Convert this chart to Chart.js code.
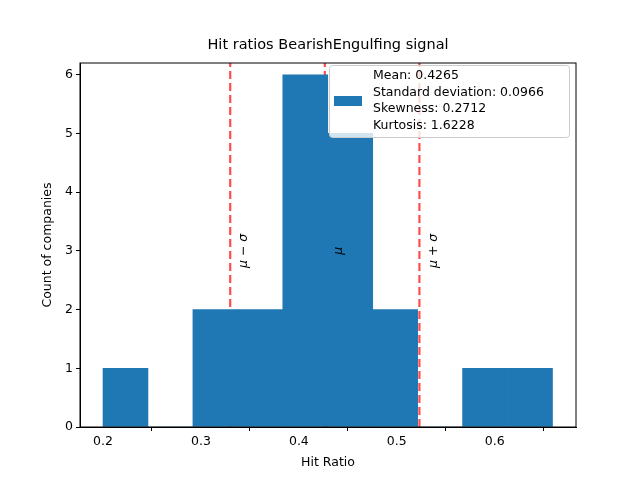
<!DOCTYPE html>
<html>
<head>
<meta charset="utf-8">
<script src="https://cdn.jsdelivr.net/npm/chart.js@4"></script>
<style>
  html, body { margin: 0; padding: 0; background: #fff; }
  #wrap { width: 640px; height: 480px; }
</style>
</head>
<body>
<div id="wrap"><canvas id="c" width="640" height="480"></canvas></div>
<script>
// ── Data ───────────────────────────────────────────────────────────────
var binEdges = [0.2, 0.2459, 0.2918, 0.3377, 0.3836, 0.4295, 0.4754, 0.5213, 0.5672, 0.6131, 0.659];
var counts = [1, 0, 2, 2, 6, 5, 2, 0, 1, 1];
var mean = 0.4265;
var sd = 0.0966;
var statLines = ["Mean: 0.4265", "Standard deviation: 0.0966", "Skewness: 0.2712", "Kurtosis: 1.6228"];
var xTicks = [0.2, 0.3, 0.4, 0.5, 0.6];
var yTicks = [0, 1, 2, 3, 4, 5, 6];

var FONT = "DejaVu Sans";
var BLUE = "#1f77b4";
var RED = "rgba(255,0,0,0.7)";

var bars = counts.map(function (c, i) {
  return { x: (binEdges[i] + binEdges[i + 1]) / 2, y: c };
});

function vline(x) {
  return {
    type: "line",
    data: [{ x: x, y: 0 }, { x: x, y: 6.3 }],
    borderColor: RED,
    borderWidth: 2.2,
    borderDash: [8, 4],
    pointRadius: 0,
    fill: false
  };
}

// ── Annotation plugin: title, rotated labels, legend, frame ─────────────
var extras = {
  id: "extras",
  afterDraw: function (chart) {
    var ctx = chart.ctx, xs = chart.scales.x, ys = chart.scales.y, a = chart.chartArea;
    ctx.save();
    ctx.strokeStyle = "#000";
    ctx.lineWidth = 1;
    ctx.strokeRect(a.left, a.top, a.right - a.left, a.bottom - a.top);

    ctx.fillStyle = "#000";
    ctx.font = "14.5px " + FONT;
    ctx.textAlign = "center";
    ctx.textBaseline = "alphabetic";
    ctx.fillText("Hit ratios BearishEngulfing signal", (a.left + a.right) / 2, 49);

    // rotated labels
    var labs = [["μ − σ", mean - sd], ["μ", mean], ["μ + σ", mean + sd]];
    ctx.font = "italic 12.5px " + FONT;
    labs.forEach(function (l) {
      ctx.save();
      ctx.translate(xs.getPixelForValue(l[1]) + 14, ys.getPixelForValue(3));
      ctx.rotate(-Math.PI / 2);
      ctx.textAlign = "center";
      ctx.textBaseline = "middle";
      ctx.fillText(l[0], 0, 0);
      ctx.restore();
    });

    // legend
    var lx = 329, ly = 65, lw = 240, lh = 72;
    ctx.fillStyle = "rgba(255,255,255,0.8)";
    ctx.strokeStyle = "#cccccc";
    ctx.beginPath();
    ctx.roundRect(lx + 0.5, ly + 0.5, lw, lh, 3);
    ctx.fill();
    ctx.stroke();
    ctx.fillStyle = BLUE;
    ctx.fillRect(334, 96, 28, 10);
    ctx.fillStyle = "#000";
    ctx.font = "12.5px " + FONT;
    ctx.textAlign = "left";
    ctx.textBaseline = "middle";
    statLines.forEach(function (s, i) {
      ctx.fillText(s, 373, 76 + i * 16.6);
    });
    ctx.restore();
  }
};

new Chart(document.getElementById("c").getContext("2d"), {
  data: {
    datasets: [
      {
        type: "bar",
        data: bars,
        backgroundColor: BLUE,
        barPercentage: 1,
        categoryPercentage: 1,
        borderWidth: 0
      },
      vline(mean - sd),
      vline(mean),
      vline(mean + sd)
    ]
  },
  plugins: [extras],
  options: {
    responsive: false,
    animation: false,
    layout: { padding: { top: 63, right: 64, left: 0, bottom: 0 } },
    plugins: { legend: { display: false }, tooltip: { enabled: false } },
    scales: {
      x: {
        type: "linear",
        offset: false,
        min: 0.1765,
        max: 0.683,
        afterBuildTicks: function (s) { s.ticks = xTicks.map(function (v) { return { value: v }; }); },
        afterFit: function (s) { s.height = 53; },
        ticks: { color: "#000", font: { family: FONT, size: 12.5 }, padding: 3,
                 callback: function (v) { return v.toFixed(1); } },
        grid: { drawOnChartArea: false, tickLength: 4, color: "#000" },
        border: { color: "#000", width: 1 },
        title: { display: true, text: "Hit Ratio", color: "#000", font: { family: FONT, size: 12.5 },
                 padding: { top: 0, bottom: 10 } }
      },
      y: {
        min: 0,
        max: 6.2,
        afterBuildTicks: function (s) { s.ticks = yTicks.map(function (v) { return { value: v }; }); },
        afterFit: function (s) { s.width = 80; },
        ticks: { color: "#000", font: { family: FONT, size: 12.5 }, padding: 3 },
        grid: { drawOnChartArea: false, tickLength: 4, color: "#000" },
        border: { color: "#000", width: 1 },
        title: { display: true, text: "Count of companies", color: "#000", font: { family: FONT, size: 12.5 },
                 padding: { top: 40, bottom: 0 } }
      }
    }
  }
});
</script>
</body>
</html>
